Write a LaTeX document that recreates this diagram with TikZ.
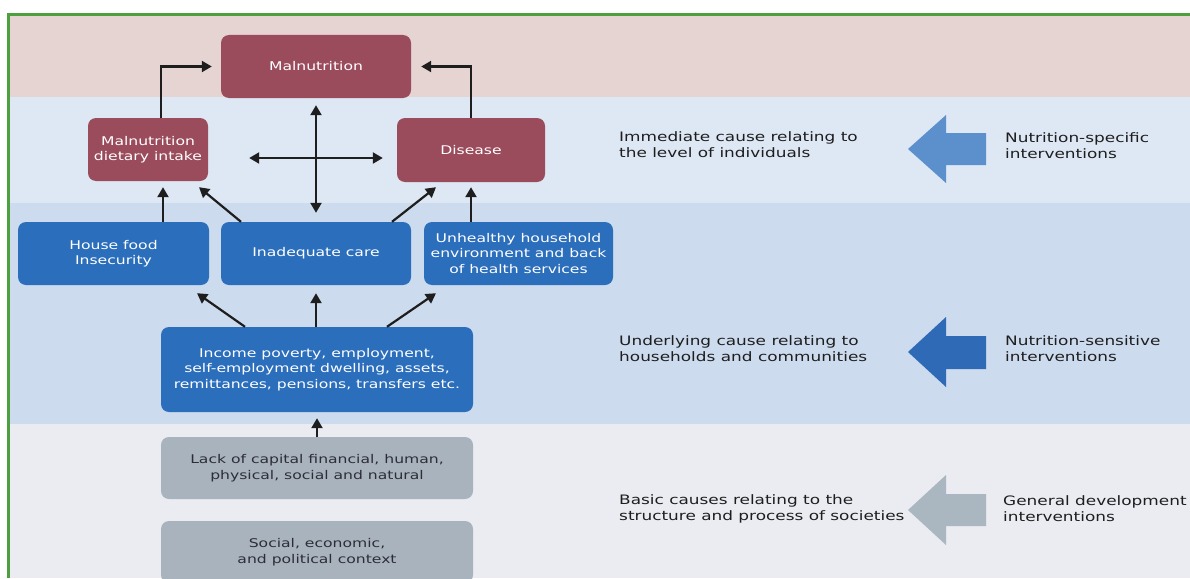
\documentclass[tikz,border=0pt]{standalone}
\usepackage{fontspec}
\setmainfont{DejaVu Sans}[FakeStretch=1.3]
\usetikzlibrary{arrows.meta}

\definecolor{bandpink}{RGB}{230,212,210}
\definecolor{bandlight}{RGB}{222,231,244}
\definecolor{bandmid}{RGB}{204,219,238}
\definecolor{bandgrey}{RGB}{234,236,241}
\definecolor{framegreen}{RGB}{76,160,62}
\definecolor{rosebox}{RGB}{155,76,92}
\definecolor{bluebox}{RGB}{43,110,188}
\definecolor{greybox}{RGB}{168,179,190}
\definecolor{arrowA}{RGB}{92,144,204}
\definecolor{arrowB}{RGB}{46,106,182}
\definecolor{arrowC}{RGB}{170,182,192}
\definecolor{ink}{RGB}{30,30,30}
\definecolor{greytext}{RGB}{45,45,55}

\tikzset{
  box/.style={rounded corners=8pt, inner sep=2pt, align=center,
    font=\fontsize{12}{15.5}\selectfont},
  rosenode/.style={box, fill=rosebox, text=white},
  bluenode/.style={box, fill=bluebox, text=white},
  greynode/.style={box, fill=greybox, text=greytext},
  tip/.tip={Triangle[length=10pt,width=11pt]},
  arr/.style={draw=ink, line width=2.2pt, -tip},
  dbl/.style={draw=ink, line width=2.2pt, tip-tip},
  lbl/.style={anchor=west, align=left, text=ink, inner sep=0pt,
    font=\fontsize{13}{16}\selectfont},
}

\begin{document}
\begin{tikzpicture}[x=1pt,y=-1pt]
\clip (0,0) rectangle (1190,578);
\fill[white] (0,0) rectangle (1190,578);

% horizontal bands for the three levels of causes
\fill[bandpink]  (8,14)  rectangle (1190,97);
\fill[bandlight] (8,97)  rectangle (1190,203);
\fill[bandmid]   (8,203) rectangle (1190,424);
\fill[bandgrey]  (8,424) rectangle (1190,578);
\draw[framegreen, line width=3pt] (8,578) -- (8,14.5) -- (1190,14.5);

% cause boxes
\node[rosenode, minimum width=190, minimum height=63] (mal)  at (316,66.5)  {Malnutrition};
\node[rosenode, minimum width=120, minimum height=63] (diet) at (148,149.5) {Malnutrition\\dietary intake};
\node[rosenode, minimum width=148, minimum height=64] (dis)  at (471,150)   {Disease};

\node[bluenode, minimum width=191, minimum height=63] (food) at (113.5,253.5) {House food\\Insecurity};
\node[bluenode, minimum width=190, minimum height=63] (care) at (316,253.5)   {Inadequate care};
\node[bluenode, minimum width=189, minimum height=63] (unh)  at (518.5,253.5) {Unhealthy household\\environment and back\\of health services};
\node[bluenode, minimum width=312, minimum height=85] (inc)  at (317,369.5)   {Income poverty, employment,\\self-employment dwelling, assets,\\remittances, pensions, transfers etc.};

\node[greynode, minimum width=312, minimum height=62] (lack) at (317,468) {Lack of capital financial, human,\\physical, social and natural};
\node[greynode, minimum width=312, minimum height=62] (soc)  at (317,552) {Social, economic,\\and political context};

% connectors
\draw[arr, shorten >=9pt]  ([shift={(13,0)}]diet.north) |- (mal.west);
\draw[arr, shorten >=10pt] (dis.north) |- (mal.east);
\draw[dbl, shorten <=7pt, shorten >=9pt] (mal.south) -- (care.north);
\draw[dbl] ([shift={(41,8.5)}]diet.east) -- ([shift={(-14,8)}]dis.west);

\draw[arr, shorten >=6pt] ([shift={(49.5,0)}]food.north) -- ([shift={(15,0)}]diet.south);
\draw[arr] ([shift={(-75,0)}]care.north) -- ([shift={(51,6)}]diet.south);
\draw[arr] ([shift={(76,0)}]care.north) -- ([shift={(-35,5)}]dis.south);
\draw[arr, shorten >=5pt] ([shift={(-47.5,0)}]unh.north) -- (dis.south);

\draw[arr] ([shift={(-72,0)}]inc.north) -- ([shift={(83.5,8)}]food.south);
\draw[arr, shorten >=8pt] (inc.north -| care.south) -- (care.south);
\draw[arr] ([shift={(70,0)}]inc.north) -- ([shift={(-82.5,8)}]unh.south);
\draw[arr, shorten >=6pt] (lack.north) -- (inc.south);

% intervention arrows
\fill[arrowA] (908,149) -- (946,115) -- (946,133) -- (986,133) -- (986,165) -- (946,165) -- (946,183) -- cycle;
\fill[arrowB] (908,352) -- (946,317) -- (946,336) -- (986,336) -- (986,369) -- (946,369) -- (946,387) -- cycle;
\fill[arrowC] (908,510) -- (946,475) -- (946,494) -- (986,494) -- (986,526) -- (946,526) -- (946,545) -- cycle;

% level and intervention labels
\node[lbl] (t1) at (619,145)  {Immediate cause relating to\\the level of individuals};
\node[lbl] (i1) at (1005,146) {Nutrition-specific\\interventions};
\node[lbl] (t2) at (619,349)  {Underlying cause relating to\\households and communities};
\node[lbl] (i2) at (1005,349) {Nutrition-sensitive\\interventions};
\node[lbl] (t3) at (619,509)  {Basic causes relating to the\\structure and process of societies};
\node[lbl] (i3) at (1003,509) {General development\\interventions};
\end{tikzpicture}
\end{document}
